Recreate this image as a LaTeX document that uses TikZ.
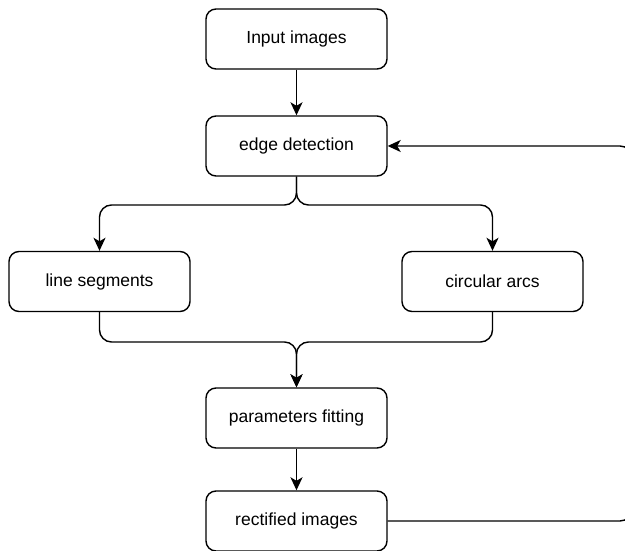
\documentclass[tikz,border=0pt]{standalone}
\usepackage{fontspec}
\setmainfont{Liberation Sans}
\usetikzlibrary{arrows.meta,calc}
\begin{document}
\begin{tikzpicture}[x=1pt,y=-1pt,
  box/.style={draw, line width=1.4pt, rounded corners=10pt, minimum width=181pt, minimum height=60pt, inner sep=0pt, font=\fontsize{17.5}{21}\selectfont},
  conn/.style={draw, line width=1.4pt, rounded corners=12pt},
  tip/.style={-{Stealth[length=13pt,width=12pt,inset=3.5pt]}}
]
\useasboundingbox (0,0) rectangle (625,551);
\begin{scope}
\clip (0,0) rectangle (625,551);
\node[box] (in) at (296.5,39) {Input images};
\node[box] (ed) at (296.5,146) {edge detection};
\node[box] (ls) at (99.5,281.5) {line segments};
\node[box] (ca) at (492.5,281.5) {circular arcs};
\node[box] (pf) at (296.5,418) {parameters fitting};
\node[box] (ri) at (296.5,521) {rectified images};
\coordinate (sp) at (296.5,205);
\coordinate (mg) at (296.5,342);
\coordinate (lr) at (632,521);
\coordinate (ur) at (632,146);
\draw[conn,tip] (in) -- (ed);
\draw[conn,tip] (ed.south) -- (sp) -- (sp -| ls.north) -- (ls.north);
\draw[conn,tip] (ed.south) -- (sp) -- (sp -| ca.north) -- (ca.north);
\draw[conn,tip] (ls.south) -- (mg -| ls.south) -- (mg) -- (pf.north);
\draw[conn,tip] (ca.south) -- (mg -| ca.south) -- (mg) -- (pf.north);
\draw[conn,tip] (pf) -- (ri);
\draw[conn,tip] (ri.east) -- (lr) -- (ur) -- (ed.east);
\end{scope}
\end{tikzpicture}
\end{document}
